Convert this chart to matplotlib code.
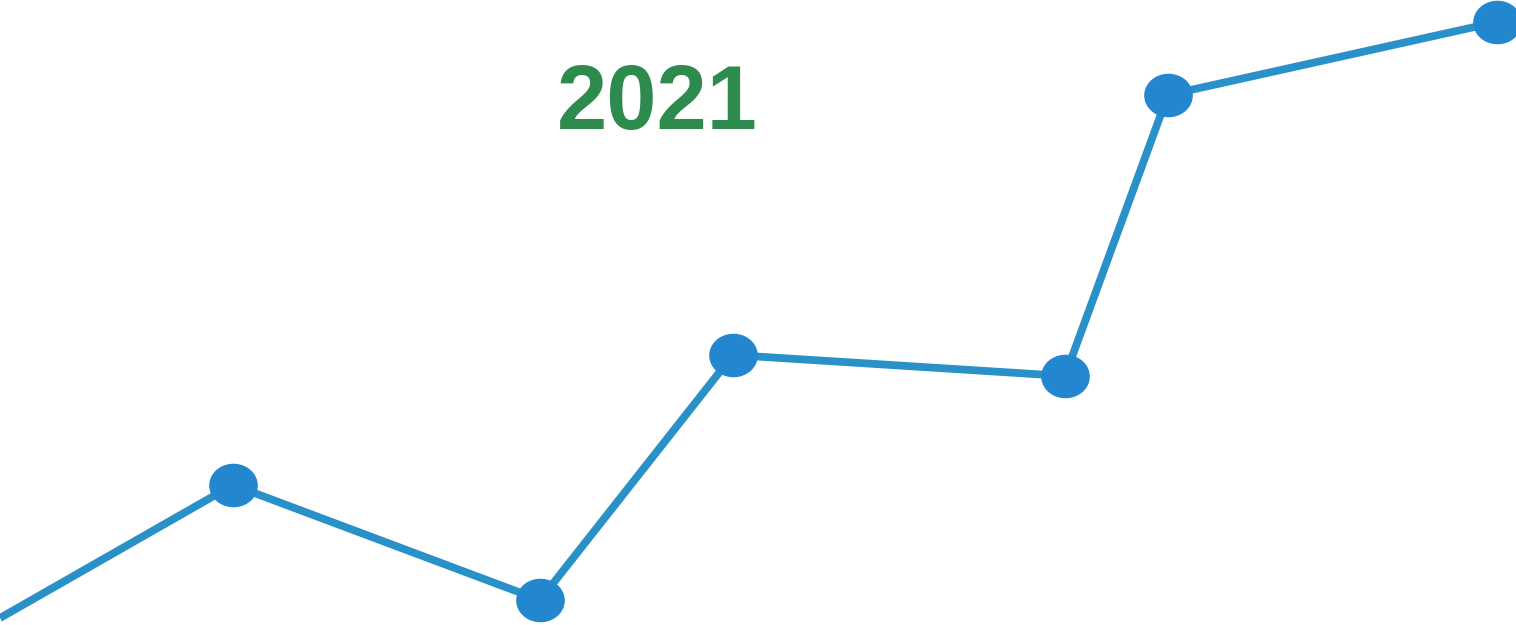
import matplotlib.pyplot as plt
import numpy as np
from matplotlib.path import Path

# Data (pixel-like scale, y upward)
xs = [0, 233, 540, 733, 1065, 1168, 1497]
ys = [7, 140, 25, 270, 249, 530, 603]
marker_xs = xs[1:]
marker_ys = ys[1:]
label = "2021"

# slightly wide ellipse marker
t = np.linspace(0, 2 * np.pi, 60)
ellipse = Path(np.column_stack([1.12 * np.cos(t), np.sin(t)]))

fig = plt.figure(figsize=(15.16, 6.25), dpi=100)
ax = fig.add_axes([0, 0, 1, 1])

ax.plot(xs, ys, color="#2a90c8", linewidth=5.6, solid_capstyle="butt", zorder=2)
ax.plot(marker_xs, marker_ys, linestyle="none", marker=ellipse, markersize=34,
        markerfacecolor="#2387cf", markeredgecolor="#2387cf", zorder=3)
# the line goes on past the right edge
ax.plot([xs[-1], xs[-1] + 60], [ys[-1], ys[-1] + 14], color="#2a90c8",
        linewidth=5.6, zorder=2)

ax.text(657, 496, label, color="#2e8b4e", fontsize=65, fontweight="bold",
        fontfamily="Liberation Sans", ha="center", va="baseline")

ax.set_xlim(0, 1516)
ax.set_ylim(0, 625)
ax.axis("off")

fig.savefig("out.png", dpi=100, facecolor="white")
